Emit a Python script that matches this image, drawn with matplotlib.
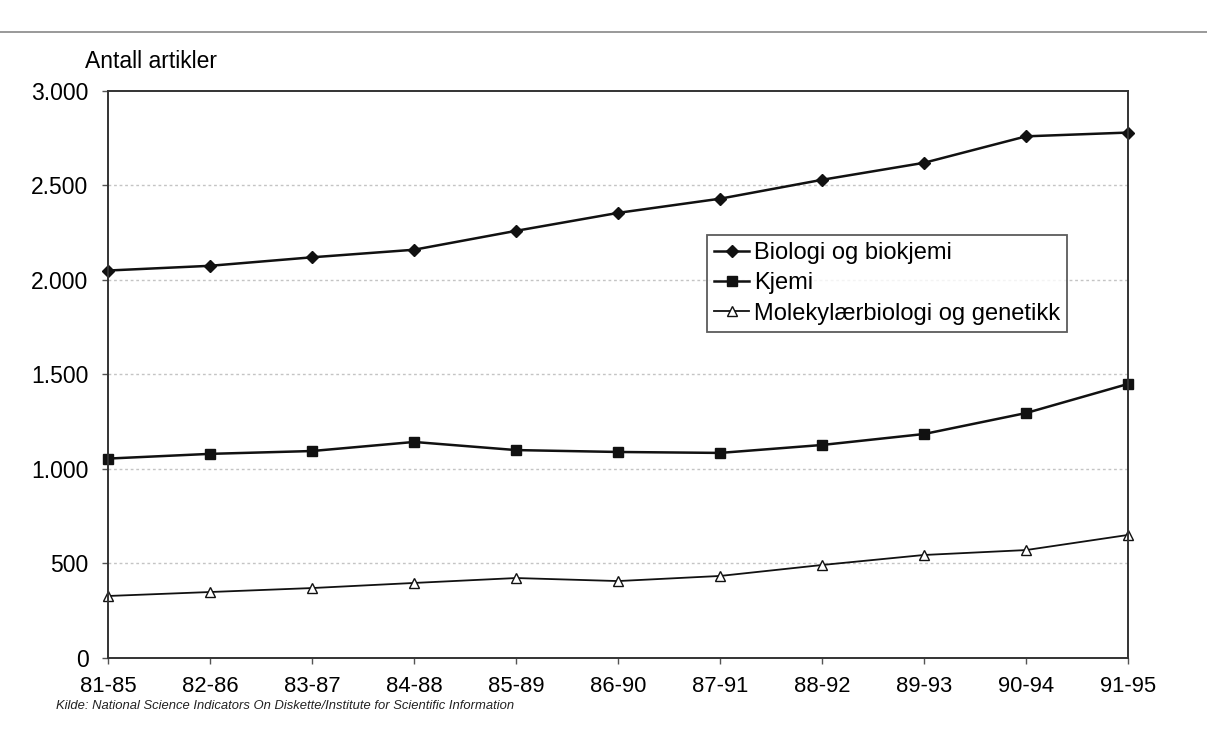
import matplotlib.pyplot as plt
from matplotlib.ticker import FuncFormatter
from matplotlib.lines import Line2D

plt.rcParams['font.family'] = ['Liberation Sans', 'DejaVu Sans']

# data
periods = ['81-85', '82-86', '83-87', '84-88', '85-89', '86-90',
           '87-91', '88-92', '89-93', '90-94', '91-95']
biologi = [2050, 2075, 2120, 2160, 2260, 2355, 2430, 2530, 2620, 2760, 2780]
kjemi = [1055, 1080, 1095, 1143, 1100, 1090, 1085, 1127, 1185, 1296, 1450]
molekyl = [328, 349, 370, 397, 423, 407, 434, 492, 545, 571, 651]

fig = plt.figure(figsize=(12.07, 7.55), dpi=100)
ax = fig.add_axes([0.0895, 0.1285, 0.8451, 0.751])

x = range(len(periods))
ax.plot(x, biologi, color='#111111', lw=1.8, marker='D', ms=6,
        label='Biologi og biokjemi', clip_on=False)
ax.plot(x, kjemi, color='#111111', lw=1.8, marker='s', ms=7,
        label='Kjemi', clip_on=False)
ax.plot(x, molekyl, color='#111111', lw=1.3, marker='^', ms=7,
        mfc='white', mec='#111111', label='Molekylærbiologi og genetikk',
        clip_on=False)

ax.set_xlim(0, len(periods) - 1)
ax.set_ylim(0, 3000)
ax.set_xticks(list(x))
ax.set_xticklabels(periods)
ax.set_yticks(range(0, 3001, 500))
ax.yaxis.set_major_formatter(FuncFormatter(lambda v, p: f'{int(v):,}'.replace(',', '.')))
ax.tick_params(labelsize=16.5, length=4, width=1, color='#555555')
ax.tick_params(axis='y', pad=10)
ax.tick_params(axis='x', pad=9, labelsize=15.8)

for y in range(500, 3000, 500):
    ax.axhline(y, color='#c4c4c4', lw=1, ls=(0, (2, 2)), zorder=0)

for s in ax.spines.values():
    s.set_color('#333333')
    s.set_linewidth(1.4)

leg = ax.legend(loc='upper left', bbox_to_anchor=(0.587, 0.746), fontsize=17,
                frameon=True, fancybox=False, edgecolor='#333333',
                handlelength=1.5, handletextpad=0.2, borderpad=0.3,
                labelspacing=0.35, borderaxespad=0)
leg.get_frame().set_linewidth(1.3)

fig.text(0.0704, 0.918, 'Antall artikler', fontsize=16.5, va='center', ha='left')
fig.text(0.046, 0.065, 'Kilde: National Science Indicators On Diskette/Institute for Scientific Information',
         fontsize=9.4, style='italic', va='center', ha='left', color='#222222')

# scan border line at top
fig.add_artist(Line2D([0, 1], [0.957, 0.957], color='#888888', lw=1.2,
                      transform=fig.transFigure))

fig.savefig('out.png', dpi=100)
